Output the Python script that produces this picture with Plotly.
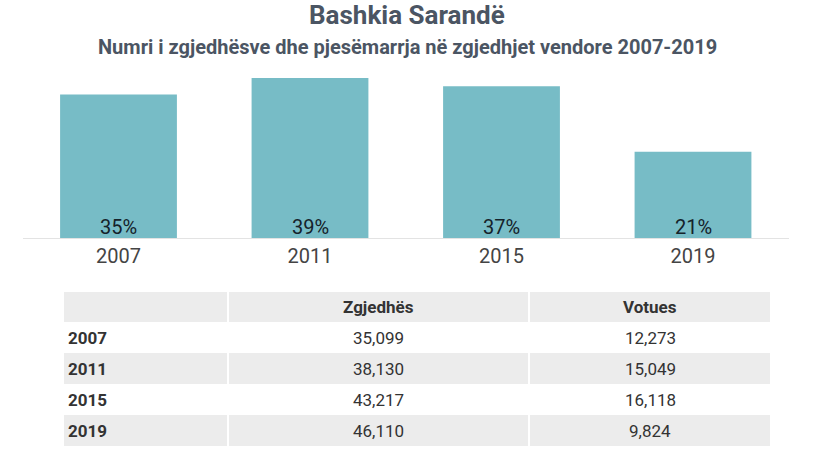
import plotly.graph_objects as go

years = ["2007", "2011", "2015", "2019"]
participation = [35, 39, 37, 21]
zgjedhes = ["35,099", "38,130", "43,217", "46,110"]
votues = ["12,273", "15,049", "16,118", "9,824"]
header_labels = ["", "Zgjedhës", "Votues"]

W, H = 814, 464
FONT = "Roboto"
TITLE_COLOR = "#4b5563"
BAR_COLOR = "#77bcc6"
GRAY = "#ececec"
TXT = "#333333"


def px(x):
    return x / W


def py(y):
    return (H - y) / H


fig = go.Figure()

fig.add_trace(go.Bar(
    x=years, y=participation,
    marker=dict(color=BAR_COLOR, line=dict(width=0)),
    hoverinfo="skip",
))

shapes = []
annotations = []

# percentage labels at the base of each bar (category index positions)
for i, v in enumerate(participation):
    annotations.append(dict(
        text=f"{v}%", x=i, y=0, xref="x", yref="y",
        yanchor="bottom", xanchor="center", showarrow=False, yshift=-3,
        font=dict(family=FONT, size=20, color="#15222a")))

# ---- table built from shapes + annotations ----
col_edges = [(64, 227), (229, 528), (530, 770)]
table_top = 292
header_h = 30
row_h = 31

rows = [header_labels] + [[y, z, v] for y, z, v in zip(years, zgjedhes, votues)]
for r, row in enumerate(rows):
    if r == 0:
        y0, y1 = table_top, table_top + header_h
    else:
        y0 = table_top + header_h + (r - 1) * row_h
        y1 = y0 + row_h
    gray = (r % 2 == 0)
    for c, (x0, x1) in enumerate(col_edges):
        if gray:
            shapes.append(dict(type="rect", xref="paper", yref="paper",
                               x0=px(x0), x1=px(x1), y0=py(y1), y1=py(y0),
                               fillcolor=GRAY, line=dict(width=0), layer="below"))
        txt = row[c]
        if not txt:
            continue
        bold = (r == 0) or (c == 0)
        if c == 0:
            xa, anchor = px(x0 + 2), "left"
        else:
            xa, anchor = px((x0 + x1) / 2), "center"
        annotations.append(dict(
            text=f"<b>{txt}</b>" if bold else txt,
            x=xa, xanchor=anchor, y=py((y0 + y1) / 2), yanchor="middle",
            xref="paper", yref="paper", showarrow=False,
            font=dict(family=FONT, size=17, color=TXT)))

annotations += [
    dict(text="<b>Bashkia Sarandë</b>", x=0.5, y=py(15), xref="paper", yref="paper",
         showarrow=False, font=dict(family=FONT, size=26, color=TITLE_COLOR),
         yanchor="middle"),
    dict(text="<b>Numri i zgjedhësve dhe pjesëmarrja në zgjedhjet vendore 2007-2019</b>",
         x=0.5, y=py(47), xref="paper", yref="paper",
         showarrow=False, font=dict(family=FONT, size=20, color=TITLE_COLOR),
         yanchor="middle"),
]

fig.update_layout(
    width=W, height=H,
    margin=dict(l=0, r=0, t=0, b=0, autoexpand=False),
    paper_bgcolor="white", plot_bgcolor="white",
    showlegend=False,
    bargap=0.39,
    font=dict(family=FONT),
    xaxis=dict(
        type="category",
        domain=[px(22.75), px(788.75)],
        showline=True, linecolor="#e3e3e3", linewidth=1,
        showgrid=False, ticks="",
        tickfont=dict(family=FONT, size=20, color="#444444"),
        fixedrange=True,
    ),
    yaxis=dict(
        domain=[py(238), py(78)],
        range=[0, 39],
        visible=False, showgrid=False, zeroline=False,
        fixedrange=True,
    ),
    shapes=shapes,
    annotations=annotations,
)

fig.write_html("out.html")
